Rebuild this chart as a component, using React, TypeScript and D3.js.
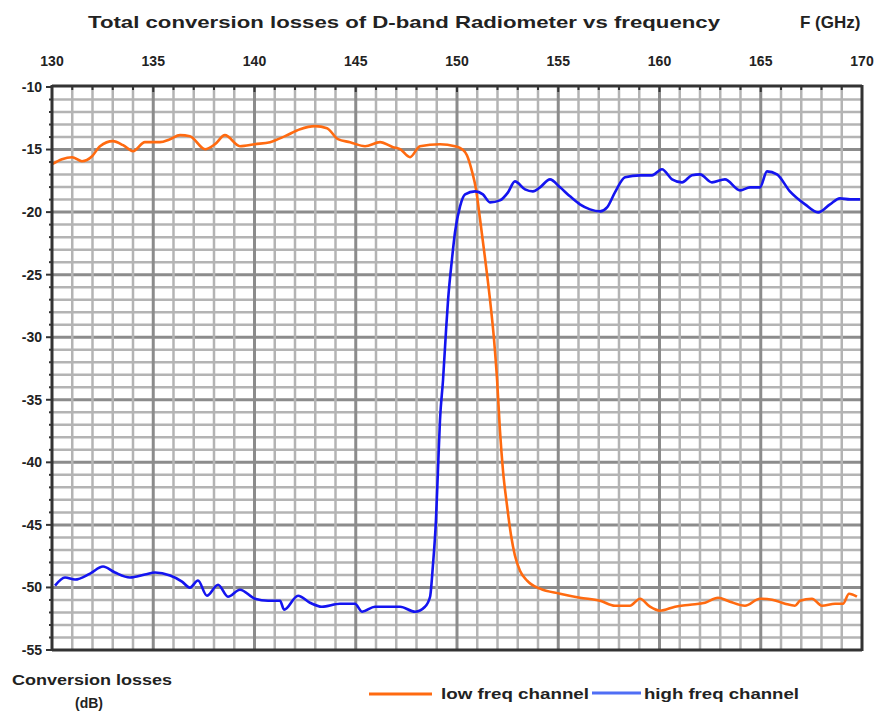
import React from "react";
import * as d3 from "d3";

const title = "Total conversion losses of D-band Radiometer vs frequency";
const xUnitLabel = "F (GHz)";
const yLabelLine1 = "Conversion losses";
const yLabelLine2 = "(dB)";
const seriesNames = ["low freq channel", "high freq channel"];
const xTicks = [130, 135, 140, 145, 150, 155, 160, 165, 170];
const yTicks = [-10, -15, -20, -25, -30, -35, -40, -45, -50, -55];

const lowFreqF = [
  130.0, 130.49, 130.99, 131.48, 131.98, 132.37, 133.01, 133.51, 134.0, 134.59,
  135.33, 135.83, 136.32, 136.81, 137.56, 138.05, 138.54, 139.28, 140.02, 140.77,
  141.51, 142.25, 142.99, 143.58, 144.12, 144.72, 145.46, 146.2, 146.84, 147.19,
  147.68, 148.17, 149.16, 149.9, 150.25, 150.49, 150.74, 150.94, 151.14, 151.38,
  151.63, 151.83, 151.98, 152.12, 152.27, 152.47, 152.67, 152.86, 153.11, 153.46,
  154.1, 155.09, 156.07, 157.06, 157.8, 158.54, 159.04, 159.53, 160.02, 160.77,
  161.51, 162.25, 162.89, 163.48, 164.22, 164.96, 165.56, 166.2, 166.69, 166.94,
  167.53, 168.02, 168.67, 169.06, 169.36, 169.75,
];
const lowFreqDb = [
  -16.17, -15.77, -15.61, -15.93, -15.53, -14.73, -14.33, -14.65, -15.13, -14.41,
  -14.41, -14.17, -13.85, -13.93, -14.97, -14.57, -13.85, -14.73, -14.57, -14.41,
  -13.93, -13.37, -13.13, -13.29, -14.17, -14.41, -14.73, -14.41, -14.81, -14.97,
  -15.61, -14.73, -14.57, -14.73, -14.97, -15.45, -16.74, -18.18, -20.59, -23.63,
  -27.0, -30.21, -33.42, -37.43, -40.64, -43.45, -45.85, -47.45, -48.66, -49.45,
  -50.1, -50.5, -50.82, -51.06, -51.46, -51.46, -50.9, -51.54, -51.86, -51.54,
  -51.38, -51.22, -50.82, -51.14, -51.46, -50.9, -50.98, -51.3, -51.46, -51.06,
  -50.9, -51.46, -51.3, -51.3, -50.5, -50.74,
];

const highFreqF = [
  130.15, 130.64, 131.14, 131.88, 132.52, 133.11, 133.85, 134.59, 135.09, 135.83,
  136.42, 136.81, 137.21, 137.65, 138.2, 138.69, 139.28, 140.02, 140.67, 141.26,
  141.46, 142.15, 142.74, 143.33, 144.22, 144.96, 145.31, 145.95, 147.19, 147.93,
  148.42, 148.67, 148.81, 148.96, 149.06, 149.16, 149.31, 149.46, 149.56, 149.75,
  149.9, 150.15, 150.4, 150.89, 151.28, 151.63, 152.12, 152.52, 152.86, 153.36,
  153.75, 154.1, 154.59, 155.09, 155.58, 156.07, 156.57, 157.06, 157.41, 157.8,
  158.3, 159.04, 159.63, 160.12, 160.62, 161.11, 161.6, 162.0, 162.59, 163.23,
  163.98, 164.47, 164.96, 165.31, 165.8, 166.44, 167.19, 167.83, 168.42, 168.91,
  169.41, 169.9,
];
const highFreqDb = [
  -49.86, -49.21, -49.37, -48.89, -48.33, -48.81, -49.21, -48.97, -48.81, -49.05,
  -49.53, -50.02, -49.45, -50.66, -49.78, -50.74, -50.18, -50.9, -51.06, -51.06,
  -51.78, -50.66, -51.22, -51.54, -51.3, -51.3, -51.94, -51.54, -51.54, -51.94,
  -51.54, -50.74, -48.25, -44.64, -40.63, -36.62, -33.42, -29.41, -27.0, -23.79,
  -21.63, -19.54, -18.58, -18.34, -18.58, -19.22, -19.06, -18.42, -17.54, -18.18,
  -18.34, -18.02, -17.38, -18.02, -18.74, -19.38, -19.78, -19.94, -19.62, -18.42,
  -17.22, -17.06, -17.06, -16.58, -17.38, -17.62, -17.06, -16.98, -17.62, -17.38,
  -18.26, -18.02, -18.02, -16.74, -16.98, -18.34, -19.38, -20.02, -19.38, -18.9,
  -18.98, -18.98,
];

const W = 883;
const H = 713;
const L = 52, R = 862, T = 87, B = 650;

export default function App() {
  const x = d3.scaleLinear().domain([130, 170]).range([L, R]);
  const y = d3.scaleLinear().domain([-10, -55]).range([T, B]);
  const line = d3
    .line<[number, number]>()
    .x((d) => x(d[0]))
    .y((d) => y(d[1]))
    .curve(d3.curveMonotoneX);
  const low: [number, number][] = lowFreqF.map((f, i) => [f, lowFreqDb[i]]);
  const high: [number, number][] = highFreqF.map((f, i) => [f, highFreqDb[i]]);

  const minorX = d3.range(131, 170, 1);
  const minorY = d3.range(-11, -55, -1);
  const font = "'Liberation Sans', Arial, sans-serif";

  return (
    <svg
      width={W}
      height={H}
      style={{ position: "absolute", left: 0, top: 0, background: "#fff" }}
      fontFamily={font}
    >
      <rect x={0} y={0} width={W} height={H} fill="#fff" />
      {/* grid */}
      <g>
        {minorY.map((v) => (
          <line
            key={"hy" + v}
            x1={L}
            x2={R}
            y1={y(v)}
            y2={y(v)}
            stroke={v % 5 === 0 ? "#8c8c8c" : "#b4b4b4"}
            strokeWidth={v % 5 === 0 ? 3 : 2.5}
          />
        ))}
        {minorX.map((f) => (
          <line
            key={"vx" + f}
            x1={x(f)}
            x2={x(f)}
            y1={T}
            y2={B}
            stroke={f % 5 === 0 ? "#8c8c8c" : "#b4b4b4"}
            strokeWidth={f % 5 === 0 ? 3 : 2.5}
          />
        ))}
      </g>
      {/* series */}
      <path d={line(low) || ""} fill="none" stroke="#ff6a10" strokeWidth={2.6} strokeLinejoin="round" />
      <path d={line(high) || ""} fill="none" stroke="#1414f0" strokeWidth={2.6} strokeLinejoin="round" />
      {/* frame */}
      <line x1={L} x2={R} y1={T - 1} y2={T - 1} stroke="#333" strokeWidth={3} />
      <line x1={L} x2={R} y1={B} y2={B} stroke="#333" strokeWidth={3} />
      <line x1={L} x2={L} y1={T - 2} y2={B + 1} stroke="#333" strokeWidth={3} />
      <line x1={R} x2={R} y1={T - 2} y2={B + 1} stroke="#333" strokeWidth={3} />
      {/* ticks */}
      {d3.range(-10, -55.5, -1).map((v) => (
        <line
          key={"ty" + v}
          x1={L - (v % 5 === 0 ? 6 : 3)}
          x2={L}
          y1={y(v)}
          y2={y(v)}
          stroke="#333"
          strokeWidth={2}
        />
      ))}
      {d3.range(130, 170.5, 1).map((f) => (
        <line
          key={"tx" + f}
          x1={x(f)}
          x2={x(f)}
          y1={T}
          y2={T + (f % 5 === 0 ? 5 : 3)}
          stroke="#333"
          strokeWidth={2}
        />
      ))}
      {/* tick labels */}
      {yTicks.map((v) => (
        <text
          key={"ly" + v}
          x={L - 10}
          y={y(v)}
          dy="0.35em"
          textAnchor="end"
          fontSize={14}
          fontWeight="bold"
          fill="#222"
        >
          {v}
        </text>
      ))}
      {xTicks.map((f) => (
        <text
          key={"lx" + f}
          x={x(f)}
          y={66}
          textAnchor="middle"
          fontSize={14}
          fontWeight="bold"
          fill="#222"
        >
          {f}
        </text>
      ))}
      {/* titles */}
      <text x={88} y={28} fontSize={17} fontWeight="bold" fill="#222" textLength={632} lengthAdjust="spacingAndGlyphs">
        {title}
      </text>
      <text x={800} y={28} fontSize={17} fontWeight="bold" fill="#222">
        {xUnitLabel}
      </text>
      <text x={12} y={685} fontSize={15} fontWeight="bold" fill="#222" textLength={160} lengthAdjust="spacingAndGlyphs">
        {yLabelLine1}
      </text>
      <text x={89} y={708} fontSize={14} fontWeight="bold" fill="#222" textAnchor="middle">
        {yLabelLine2}
      </text>
      {/* legend */}
      <line x1={369} x2={432} y1={694} y2={694} stroke="#ff6a10" strokeWidth={3} />
      <text x={441} y={699} fontSize={14} fontWeight="bold" fill="#222" textLength={148} lengthAdjust="spacingAndGlyphs">
        {seriesNames[0]}
      </text>
      <line x1={592} x2={641} y1={693} y2={693} stroke="#4f6ef5" strokeWidth={3} />
      <text x={644} y={699} fontSize={14} fontWeight="bold" fill="#222" textLength={155} lengthAdjust="spacingAndGlyphs">
        {seriesNames[1]}
      </text>
    </svg>
  );
}
